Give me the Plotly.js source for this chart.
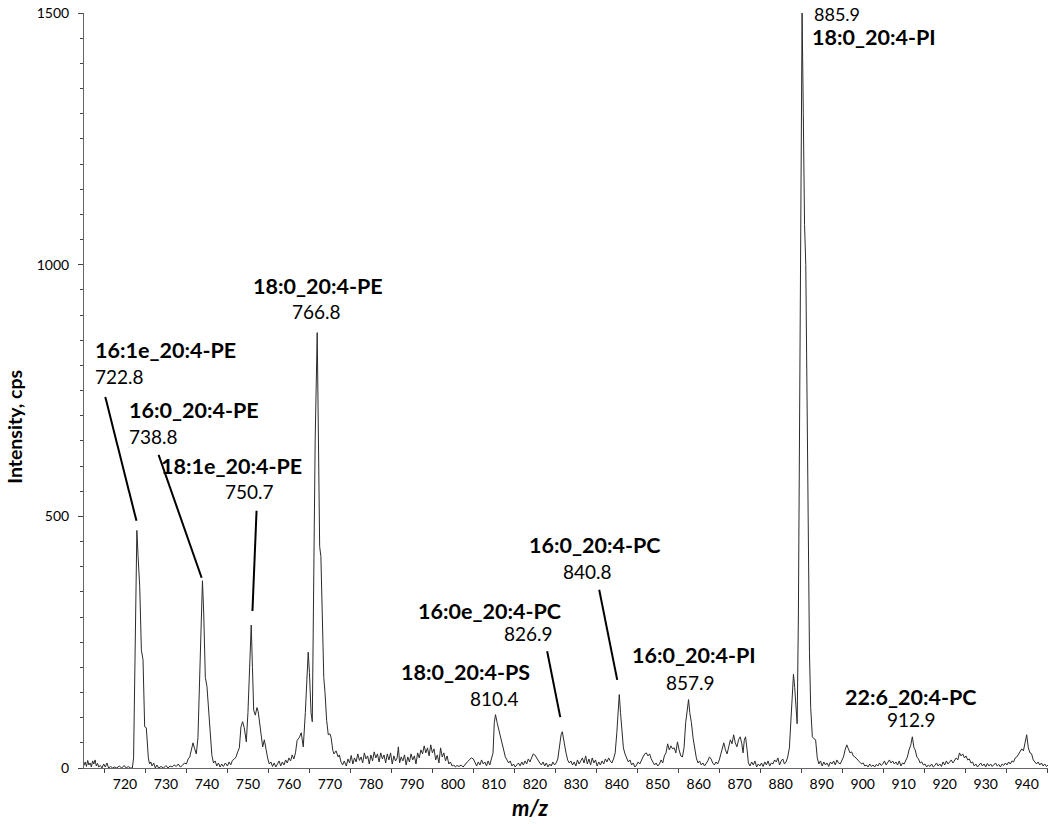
<!DOCTYPE html>
<html>
<head>
<meta charset="utf-8">
<script src="https://cdn.plot.ly/plotly-3.0.1.min.js"></script>
<style>
  html, body { margin: 0; padding: 0; background: #fff; }
  #graph { width: 1050px; height: 824px; }
</style>
</head>
<body>
<div id="graph"></div>
<script>
// spectre : [m/z, intensité en cps]
const spectrum = [
  [710.0, 5], [710.3, 12], [710.6, 3], [710.9, 15], [711.2, 6], [711.5, 10], [711.8, 2], [712.1, 14],
  [712.4, 8], [712.7, 16], [713.0, 4], [713.3, 9], [713.6, 2], [714.0, 5], [714.4, 0], [714.8, 8],
  [715.2, 2], [715.6, 10], [716.0, 0], [716.5, 3], [717.0, 0], [717.5, 2], [718.0, 0], [718.6, 4],
  [719.2, 0], [719.8, 5], [720.3, 0], [720.8, 3], [721.3, 0], [721.8, 0], [722.1, 20], [722.4, 180],
  [722.6, 334], [722.9, 472], [723.2, 420], [723.6, 360], [724.0, 234], [724.4, 215], [724.8, 82], [725.2, 80],
  [725.7, 20], [726.0, 8], [726.3, 12], [726.6, 4], [727.0, 10], [727.4, 0], [727.8, 6], [728.2, 0],
  [728.8, 3], [729.4, 0], [730.0, 5], [730.5, 0], [731.0, 4], [731.5, 2], [732.0, 6], [732.5, 3],
  [733.0, 8], [733.5, 2], [734.0, 5], [734.5, 10], [735.0, 8], [735.4, 18], [735.8, 22], [736.2, 35],
  [736.6, 50], [737.0, 38], [737.4, 28], [737.8, 60], [738.2, 170], [738.5, 300], [738.9, 372], [739.2, 310],
  [739.6, 180], [740.0, 162], [740.4, 110], [740.8, 62], [741.2, 25], [741.6, 10], [742.0, 14], [742.4, 4],
  [742.8, 10], [743.2, 2], [743.6, 8], [744.0, 3], [744.5, 10], [745.0, 4], [745.4, 12], [745.8, 6],
  [746.2, 15], [746.7, 18], [747.1, 22], [747.5, 32], [747.9, 40], [748.3, 82], [748.7, 92], [749.1, 80],
  [749.6, 52], [750.0, 110], [750.4, 200], [750.8, 284], [751.1, 200], [751.4, 115], [751.8, 105], [752.2, 120],
  [752.5, 112], [752.9, 90], [753.3, 60], [753.6, 42], [754.0, 56], [754.4, 35], [754.8, 20], [755.2, 8],
  [755.6, 12], [756.0, 3], [756.4, 10], [756.8, 2], [757.2, 8], [757.6, 14], [758.0, 4], [758.4, 12],
  [758.8, 6], [759.2, 16], [759.6, 10], [760.0, 20], [760.4, 14], [760.8, 26], [761.2, 18], [761.6, 30],
  [762.0, 55], [762.5, 60], [763.0, 70], [763.5, 42], [764.0, 110], [764.4, 200], [764.7, 230], [765.0, 190],
  [765.4, 110], [765.7, 92], [766.0, 300], [766.4, 650], [766.9, 865], [767.2, 600], [767.5, 440], [767.8, 420],
  [768.1, 300], [768.5, 180], [768.8, 150], [769.2, 95], [769.6, 66], [770.0, 68], [770.3, 60], [770.7, 35],
  [771.0, 28], [771.5, 34], [772.0, 22], [772.3, 26], [772.7, 12], [773.1, 6], [773.5, 14], [774.0, 4],
  [774.4, 18], [774.8, 10], [775.2, 25], [775.6, 8], [776.0, 20], [776.4, 12], [776.8, 28], [777.2, 15],
  [777.6, 22], [778.0, 10], [778.4, 30], [778.8, 18], [779.2, 24], [779.6, 8], [780.0, 26], [780.4, 14],
  [780.8, 32], [781.2, 20], [781.6, 28], [782.0, 12], [782.4, 30], [782.8, 18], [783.2, 26], [783.6, 10],
  [784.0, 28], [784.4, 16], [784.8, 30], [785.2, 8], [785.6, 24], [786.0, 14], [786.4, 20], [786.7, 42],
  [787.0, 10], [787.4, 22], [787.8, 14], [788.2, 26], [788.6, 6], [789.0, 22], [789.4, 12], [789.8, 28],
  [790.2, 16], [790.6, 24], [791.0, 8], [791.4, 30], [791.8, 20], [792.2, 36], [792.6, 28], [793.0, 44],
  [793.4, 30], [793.8, 40], [794.2, 24], [794.6, 46], [795.0, 30], [795.4, 38], [795.8, 16], [796.2, 26],
  [796.6, 10], [797.0, 40], [797.4, 22], [797.8, 30], [798.2, 14], [798.6, 24], [799.0, 8], [799.4, 12],
  [799.8, 4], [800.2, 6], [800.6, 2], [801.0, 5], [801.5, 3], [802.0, 6], [802.5, 2], [803.0, 8],
  [803.5, 12], [804.0, 16], [804.5, 20], [805.0, 18], [805.4, 10], [805.8, 4], [806.2, 12], [806.6, 6],
  [807.0, 16], [807.4, 8], [807.8, 12], [808.2, 4], [808.6, 14], [809.0, 6], [809.4, 18], [809.8, 30],
  [810.1, 90], [810.4, 106], [810.8, 90], [811.2, 75], [811.6, 62], [812.0, 50], [812.4, 30], [812.8, 22],
  [813.2, 16], [813.6, 10], [814.0, 14], [814.4, 4], [814.8, 8], [815.2, 2], [815.6, 6], [816.0, 10],
  [816.4, 4], [816.8, 12], [817.2, 6], [817.6, 14], [818.0, 8], [818.4, 18], [818.8, 12], [819.2, 22],
  [819.6, 28], [820.0, 26], [820.4, 20], [820.8, 14], [821.2, 10], [821.6, 6], [822.0, 12], [822.4, 4],
  [822.8, 10], [823.2, 2], [823.6, 8], [824.0, 4], [824.4, 12], [824.8, 6], [825.2, 10], [825.6, 18],
  [826.0, 40], [826.4, 66], [826.7, 72], [827.0, 55], [827.3, 48], [827.6, 30], [828.0, 16], [828.4, 10],
  [828.8, 14], [829.2, 6], [829.6, 12], [830.0, 4], [830.4, 16], [830.8, 8], [831.2, 14], [831.6, 20],
  [832.0, 10], [832.4, 24], [832.8, 8], [833.2, 18], [833.6, 6], [834.0, 20], [834.4, 10], [834.8, 16],
  [835.2, 4], [835.6, 12], [836.0, 6], [836.4, 14], [836.8, 8], [837.2, 18], [837.6, 12], [838.0, 20],
  [838.4, 14], [838.8, 10], [839.2, 18], [839.6, 30], [840.0, 70], [840.3, 120], [840.6, 146], [840.9, 110],
  [841.2, 72], [841.6, 40], [842.0, 28], [842.4, 18], [842.8, 12], [843.2, 16], [843.6, 6], [844.0, 10],
  [844.4, 2], [844.8, 6], [845.2, 12], [845.6, 8], [846.0, 16], [846.4, 22], [846.8, 28], [847.2, 30],
  [847.6, 24], [848.0, 28], [848.4, 18], [848.8, 12], [849.2, 6], [849.6, 10], [850.0, 4], [850.4, 8],
  [850.8, 16], [851.2, 10], [851.6, 24], [852.0, 30], [852.4, 48], [852.8, 36], [853.2, 44], [853.6, 38],
  [854.0, 40], [854.4, 30], [854.8, 52], [855.2, 36], [855.6, 24], [856.0, 22], [856.4, 40], [856.8, 90],
  [857.2, 120], [857.5, 136], [857.8, 110], [858.2, 90], [858.6, 60], [859.0, 35], [859.4, 20], [859.8, 10],
  [860.2, 14], [860.6, 6], [861.0, 10], [861.4, 4], [861.8, 8], [862.2, 14], [862.6, 22], [863.0, 18],
  [863.4, 10], [863.8, 6], [864.2, 12], [864.6, 8], [865.0, 16], [865.4, 28], [865.8, 40], [866.1, 50],
  [866.5, 36], [866.9, 28], [867.3, 42], [867.7, 56], [868.1, 48], [868.5, 66], [868.9, 50], [869.3, 42],
  [869.7, 56], [870.1, 62], [870.5, 48], [870.8, 30], [871.1, 55], [871.4, 62], [871.8, 35], [872.1, 10],
  [872.5, 4], [872.9, 12], [873.3, 6], [873.7, 14], [874.1, 2], [874.5, 8], [874.9, 4], [875.3, 10],
  [875.7, 3], [876.1, 12], [876.5, 6], [876.9, 14], [877.3, 4], [877.7, 10], [878.1, 8], [878.5, 16],
  [878.9, 12], [879.3, 20], [879.7, 6], [880.1, 14], [880.5, 18], [880.9, 8], [881.3, 12], [881.7, 22],
  [882.1, 40], [882.5, 95], [882.8, 160], [883.1, 186], [883.4, 160], [883.7, 120], [884.0, 88], [884.3, 300],
  [884.6, 700], [884.9, 1250], [885.2, 1502], [885.5, 1300], [885.8, 1080], [886.1, 1000], [886.4, 720], [886.7, 420],
  [887.0, 230], [887.3, 120], [887.7, 62], [888.1, 58], [888.5, 56], [888.9, 20], [889.3, 8], [889.7, 14],
  [890.1, 4], [890.5, 12], [890.9, 6], [891.3, 10], [891.7, 3], [892.1, 12], [892.5, 8], [892.9, 14],
  [893.3, 6], [893.7, 16], [894.1, 10], [894.5, 8], [894.9, 14], [895.3, 22], [895.7, 36], [896.1, 46],
  [896.5, 38], [896.9, 30], [897.3, 32], [897.7, 24], [898.1, 22], [898.5, 18], [898.9, 14], [899.3, 12],
  [899.7, 8], [900.1, 10], [900.5, 4], [900.9, 6], [901.3, 2], [901.7, 8], [902.1, 3], [902.5, 6],
  [902.9, 2], [903.3, 7], [903.7, 4], [904.1, 10], [904.5, 5], [904.9, 8], [905.3, 14], [905.7, 6],
  [906.1, 12], [906.5, 16], [906.9, 10], [907.3, 14], [907.7, 8], [908.1, 12], [908.5, 6], [908.9, 14],
  [909.3, 4], [909.7, 10], [910.1, 8], [910.5, 14], [910.9, 22], [911.3, 36], [911.7, 45], [912.1, 62],
  [912.5, 40], [912.8, 36], [913.2, 22], [913.6, 18], [914.0, 10], [914.4, 12], [914.8, 6], [915.2, 8],
  [915.6, 2], [916.0, 6], [916.4, 3], [916.8, 8], [917.2, 2], [917.6, 5], [918.0, 10], [918.4, 4],
  [918.8, 8], [919.2, 3], [919.6, 12], [920.0, 6], [920.4, 14], [920.8, 8], [921.2, 12], [921.6, 16],
  [922.0, 10], [922.4, 14], [922.8, 20], [923.2, 16], [923.6, 30], [924.0, 24], [924.4, 28], [924.8, 20],
  [925.2, 24], [925.6, 16], [926.0, 18], [926.4, 10], [926.8, 12], [927.2, 4], [927.6, 8], [928.0, 2],
  [928.4, 6], [928.8, 10], [929.2, 4], [929.6, 8], [930.0, 2], [930.4, 9], [930.8, 4], [931.2, 8],
  [931.6, 3], [932.0, 6], [932.4, 10], [932.8, 4], [933.2, 7], [933.6, 2], [934.0, 8], [934.4, 5],
  [934.8, 10], [935.2, 6], [935.6, 12], [936.0, 8], [936.4, 14], [936.8, 12], [937.2, 20], [937.6, 22],
  [938.0, 28], [938.4, 32], [938.8, 38], [939.2, 34], [939.6, 48], [940.0, 66], [940.4, 40], [940.8, 30],
  [941.2, 28], [941.6, 16], [942.0, 12], [942.4, 8], [942.8, 12], [943.2, 6], [943.6, 10], [944.0, 4],
  [944.4, 8], [944.8, 3], [945.2, 6]
];

// graduations de l'axe m/z
const mzTicks = [720, 730, 740, 750, 760, 770, 780, 790, 800, 810, 820, 830, 840, 850, 860, 870, 880, 890, 900, 910, 920, 930, 940];

// noms des lipides et m/z affichés
const lipidNames = ['16:1e_20:4-PE', '16:0_20:4-PE', '18:1e_20:4-PE', '18:0_20:4-PE', '18:0_20:4-PS',
  '16:0e_20:4-PC', '16:0_20:4-PC', '16:0_20:4-PI', '18:0_20:4-PI', '22:6_20:4-PC'];
const lipidMz = ['722.8', '738.8', '750.7', '766.8', '810.4', '826.9', '840.8', '857.9', '885.9', '912.9'];

// placement des étiquettes (nom, puis valeur) ; y en fraction du graphique
const namePos = [
  { x: 712.3, y: 0.5536, anchor: 'left' }, { x: 720.4, y: 0.4742, anchor: 'left' }, { x: 728.2, y: 0.4000, anchor: 'left' },
  { x: 767.2, y: 0.6384, anchor: 'center' }, { x: 803.0, y: 0.1272, anchor: 'center' }, { x: 808.9, y: 0.2079, anchor: 'center' },
  { x: 834.5, y: 0.2954, anchor: 'center' }, { x: 858.9, y: 0.1497, anchor: 'center' }, { x: 887.2, y: 0.9682, anchor: 'left' },
  { x: 911.6, y: 0.0940, anchor: 'center' }
];
const mzPos = [
  { x: 712.3, y: 0.5192, anchor: 'left' }, { x: 720.4, y: 0.4397, anchor: 'left' }, { x: 743.8, y: 0.3656, anchor: 'left' },
  { x: 766.7, y: 0.6040, anchor: 'center' }, { x: 810.1, y: 0.0927, anchor: 'center' }, { x: 818.4, y: 0.1788, anchor: 'center' },
  { x: 832.8, y: 0.2609, anchor: 'center' }, { x: 857.9, y: 0.1139, anchor: 'center' }, { x: 887.7, y: 1.0159, anchor: 'left', v: 'top', size: 18 },
  { x: 911.8, y: 0.0636, anchor: 'center' }
];
// traits qui relient certaines étiquettes à leur pic
const leaders = [
  [715.2, 737, 722.8, 491], [728.2, 622, 738.7, 378], [752.1, 511, 751.1, 312],
  [823.0, 232, 826.2, 101], [835.7, 354, 840.1, 175]
];

const font = 'Lato, "Liberation Sans", sans-serif';

const trace = {
  x: spectrum.map(p => p[0]),
  y: spectrum.map(p => p[1]),
  mode: 'lines',
  line: { color: '#2b2b2b', width: 1 },
  hoverinfo: 'x+y'
};

const annotations = [];
lipidNames.forEach((name, i) => {
  annotations.push({
    x: namePos[i].x, y: namePos[i].y, xref: 'x', yref: 'paper',
    text: '<b>' + name + '</b>', showarrow: false,
    xanchor: namePos[i].anchor, yanchor: 'middle',
    font: { family: font, size: 21.5, color: '#000' }
  });
  annotations.push({
    x: mzPos[i].x, y: mzPos[i].y, xref: 'x', yref: 'paper',
    text: lipidMz[i], showarrow: false,
    xanchor: mzPos[i].anchor, yanchor: mzPos[i].v || 'middle',
    font: { family: font, size: mzPos[i].size || 19, color: '#000' }
  });
});

// titres des axes (décalés comme sur la figure)
annotations.push({
  xref: 'paper', yref: 'paper', x: -0.0716, y: 0.452,
  text: '<b>Intensity, cps</b>', textangle: -90, showarrow: false,
  xanchor: 'center', yanchor: 'middle',
  font: { family: font, size: 19.5, color: '#000' }
});
annotations.push({
  xref: 'paper', yref: 'paper', x: 0.4627, y: -0.0525,
  text: '<b><i>m/z</i></b>', showarrow: false,
  xanchor: 'center', yanchor: 'middle',
  font: { family: font, size: 22, color: '#000' }
});

const shapes = leaders.map(l => ({
  type: 'line', xref: 'x', yref: 'y',
  x0: l[0], y0: l[1], x1: l[2], y1: l[3],
  line: { color: '#000', width: 2 }
}));

const layout = {
  width: 1050,
  height: 824,
  margin: { l: 84, r: 2, t: 13, b: 56 },
  paper_bgcolor: '#fff',
  plot_bgcolor: '#fff',
  showlegend: false,
  font: { family: font, color: '#000' },
  xaxis: {
    range: [710, 945.2],
    showgrid: false, zeroline: false,
    showline: true, linecolor: '#666', linewidth: 1,
    tickmode: 'array', tickvals: mzTicks, ticktext: mzTicks.map(String),
    ticks: '', ticklabelstandoff: 3,
    minor: { tickmode: 'linear', tick0: 715, dtick: 10, ticks: 'outside', ticklen: 4, tickcolor: '#444', showgrid: false },
    tickfont: { family: font, size: 14, color: '#000' }
  },
  yaxis: {
    range: [0, 1500],
    showgrid: false, zeroline: false,
    showline: true, linecolor: '#666', linewidth: 1,
    tickmode: 'linear', tick0: 0, dtick: 500,
    ticks: 'outside', ticklen: 5, tickcolor: '#444',
    ticklabelstandoff: 6,
    minor: { dtick: 50, ticks: 'outside', ticklen: 3, tickcolor: '#444', showgrid: false },
    tickfont: { family: font, size: 14, color: '#000' }
  },
  annotations: annotations,
  shapes: shapes
};

Plotly.newPlot('graph', [trace], layout, { displayModeBar: false, staticPlot: true });
</script>
</body>
</html>
